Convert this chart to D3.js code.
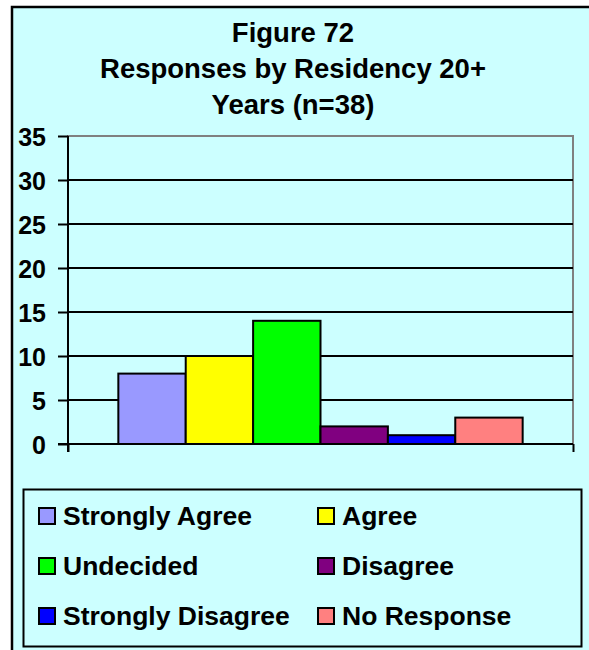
<!DOCTYPE html>
<html>
<head>
<meta charset="utf-8">
<script src="https://cdn.jsdelivr.net/npm/d3@7"></script>
<style>
  html, body { margin: 0; padding: 0; background: #ffffff; }
  svg { display: block; }
  text { font-family: "Liberation Sans", Arial, sans-serif; font-weight: bold; fill: #000; }
</style>
</head>
<body>
<script>
const titleLines = ["Figure 72", "Responses by Residency 20+", "Years (n=38)"];
const categories = ["Strongly Agree", "Agree", "Undecided", "Disagree", "Strongly Disagree", "No Response"];
const values = [8, 10, 14, 2, 1, 3];
const colors = ["#9999FF", "#FFFF00", "#00FF00", "#800080", "#0000FF", "#FF8080"];
const yTicks = [0, 5, 10, 15, 20, 25, 30, 35];

(function () {
const W = 589, H = 650;
const svg = d3.select("body").append("svg").attr("width", W).attr("height", H);

// outer frame (extends past the viewport on right/bottom)
svg.append("rect").attr("x", 12).attr("y", 7).attr("width", 620).attr("height", 700)
  .attr("fill", "#CCFFFF").attr("stroke", "#000").attr("stroke-width", 2.5);

// title
svg.append("g").selectAll("text").data(titleLines).join("text")
  .attr("x", 293).attr("y", (d, i) => 42 + i * 36)
  .attr("text-anchor", "middle").style("font-size", "27.5px").text(d => d);

// plot
const pL = 68, pR = 573, pT = 136, pB = 444;
const y = d3.scaleLinear().domain([0, 35]).range([pB, pT]);
const x0 = d3.scaleBand().domain(["all"]).range([pL, pR]).paddingInner(0).paddingOuter(0.1245);
const x = d3.scaleBand().domain(categories).range([x0("all"), x0("all") + x0.bandwidth()]);

// plot area border (gray)
svg.append("rect").attr("x", pL).attr("y", pT).attr("width", pR - pL).attr("height", pB - pT)
  .attr("fill", "none").attr("stroke", "#808080").attr("stroke-width", 2);

// gridlines
svg.append("g").selectAll("line").data(yTicks.filter(t => t > 0 && t < 35)).join("line")
  .attr("x1", pL).attr("x2", pR).attr("y1", d => y(d)).attr("y2", d => y(d))
  .attr("stroke", "#000").attr("stroke-width", 2);

// bars
svg.append("g").selectAll("rect").data(values).join("rect")
  .attr("x", (d, i) => x(categories[i]))
  .attr("y", d => y(d))
  .attr("width", x.bandwidth())
  .attr("height", d => y(0) - y(d))
  .attr("fill", (d, i) => colors[i])
  .attr("stroke", "#000").attr("stroke-width", 2);

// y axis
const yAxis = d3.axisLeft(y).tickValues(yTicks).tickSize(10).tickPadding(12);
const gy = svg.append("g").attr("transform", `translate(${pL},0)`).call(yAxis);
gy.select(".domain").attr("stroke", "#000").attr("stroke-width", 2).attr("d", `M0,${pT}V${pB + 8}`);
gy.selectAll(".tick line").attr("stroke", "#000").attr("stroke-width", 2);
gy.selectAll(".tick text").style("font-size", "25px").style("font-family", "'Liberation Sans', Arial, sans-serif").style("font-weight", "bold").attr("fill", "#000").attr("dy", "0.36em");

// x axis line with end ticks
const xAxisScale = d3.scaleLinear().domain([0, 1]).range([pL, pR]);
const xAxis = d3.axisBottom(xAxisScale).tickValues([0, 1]).tickSize(8).tickFormat("");
const gx = svg.append("g").attr("transform", `translate(0,${pB})`).call(xAxis);
gx.select(".domain").attr("stroke", "#000").attr("stroke-width", 2).attr("d", `M${pL - 10},0H${pR}`);
gx.selectAll(".tick line").attr("stroke", "#000").attr("stroke-width", 2);

// legend
svg.append("rect").attr("x", 23.5).attr("y", 489.5).attr("width", 558).attr("height", 157)
  .attr("fill", "#CCFFFF").attr("stroke", "#000").attr("stroke-width", 2);
const colX = [38, 317], rowY = [507, 557, 607];
const lg = svg.append("g").selectAll("g").data(categories).join("g")
  .attr("transform", (d, i) => `translate(${colX[i % 2]},${rowY[Math.floor(i / 2)]})`);
lg.append("rect").attr("x", 1).attr("y", 1).attr("width", 16).attr("height", 16)
  .attr("fill", (d, i) => colors[i]).attr("stroke", "#000").attr("stroke-width", 2);
lg.append("text").attr("x", 25).attr("y", 17.5).style("font-size", "26.5px").text(d => d);
})();
</script>
</body>
</html>
